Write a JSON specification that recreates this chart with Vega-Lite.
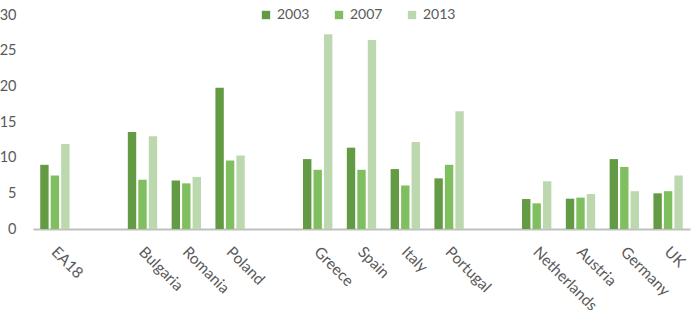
{
  "$schema": "https://vega.github.io/schema/vega-lite/v6.json",
  "autosize": "none",
  "width": 657,
  "height": 214,
  "padding": {"left": 33, "top": 15, "right": 2, "bottom": 81},
  "background": "white",
  "config": {
    "view": {"stroke": null},
    "font": "Lato",
    "axis": {"labelFont": "Lato", "labelColor": "#595959", "labelFontSize": 14},
    "legend": {"labelFont": "Lato", "labelColor": "#595959", "labelFontSize": 14}
  },
  "data": {
    "values": [
      {"country": "EA18", "year": "2003", "value": 9.0},
      {"country": "EA18", "year": "2007", "value": 7.5},
      {"country": "EA18", "year": "2013", "value": 11.9},
      {"country": "Bulgaria", "year": "2003", "value": 13.6},
      {"country": "Bulgaria", "year": "2007", "value": 6.9},
      {"country": "Bulgaria", "year": "2013", "value": 13.0},
      {"country": "Romania", "year": "2003", "value": 6.8},
      {"country": "Romania", "year": "2007", "value": 6.4},
      {"country": "Romania", "year": "2013", "value": 7.3},
      {"country": "Poland", "year": "2003", "value": 19.8},
      {"country": "Poland", "year": "2007", "value": 9.6},
      {"country": "Poland", "year": "2013", "value": 10.3},
      {"country": "Greece", "year": "2003", "value": 9.8},
      {"country": "Greece", "year": "2007", "value": 8.3},
      {"country": "Greece", "year": "2013", "value": 27.3},
      {"country": "Spain", "year": "2003", "value": 11.4},
      {"country": "Spain", "year": "2007", "value": 8.3},
      {"country": "Spain", "year": "2013", "value": 26.5},
      {"country": "Italy", "year": "2003", "value": 8.4},
      {"country": "Italy", "year": "2007", "value": 6.1},
      {"country": "Italy", "year": "2013", "value": 12.2},
      {"country": "Portugal", "year": "2003", "value": 7.1},
      {"country": "Portugal", "year": "2007", "value": 9.0},
      {"country": "Portugal", "year": "2013", "value": 16.5},
      {"country": "Netherlands", "year": "2003", "value": 4.2},
      {"country": "Netherlands", "year": "2007", "value": 3.6},
      {"country": "Netherlands", "year": "2013", "value": 6.7},
      {"country": "Austria", "year": "2003", "value": 4.25},
      {"country": "Austria", "year": "2007", "value": 4.4},
      {"country": "Austria", "year": "2013", "value": 4.9},
      {"country": "Germany", "year": "2003", "value": 9.8},
      {"country": "Germany", "year": "2007", "value": 8.7},
      {"country": "Germany", "year": "2013", "value": 5.3},
      {"country": "UK", "year": "2003", "value": 5.0},
      {"country": "UK", "year": "2007", "value": 5.3},
      {"country": "UK", "year": "2013", "value": 7.5}
    ]
  },
  "mark": {"type": "bar"},
  "encoding": {
    "x": {
      "field": "country",
      "type": "nominal",
      "scale": {
        "domain": ["EA18", "gap1", "Bulgaria", "Romania", "Poland", "gap2", "Greece", "Spain", "Italy", "Portugal", "gap3", "Netherlands", "Austria", "Germany", "UK"],
        "paddingInner": 0.33,
        "paddingOuter": 0.165
      },
      "axis": {
        "title": null,
        "labelAngle": 45,
        "labelAlign": "left",
        "labelBaseline": "top",
        "labelPadding": 15,
        "labelOffset": 4,
        "labelFontSize": 15.5,
        "ticks": false,
        "domainColor": "#bfbfbf",
        "domainWidth": 2,
        "labelExpr": "indexof(datum.value, 'gap') === 0 ? '' : datum.value"
      }
    },
    "xOffset": {"field": "year", "type": "nominal", "scale": {"paddingInner": 0.2}},
    "y": {
      "field": "value",
      "type": "quantitative",
      "scale": {"domain": [0, 30], "nice": false},
      "axis": {
        "title": null,
        "values": [0, 5, 10, 15, 20, 25, 30],
        "domain": false,
        "ticks": false,
        "grid": false,
        "labelPadding": 17,
        "labelFontSize": 14.5
      }
    },
    "color": {
      "field": "year",
      "type": "nominal",
      "scale": {"domain": ["2003", "2007", "2013"], "range": ["#639b44", "#7fbf5f", "#bcd8ae"]},
      "legend": {
        "title": null,
        "orient": "none",
        "direction": "horizontal",
        "legendX": 226,
        "legendY": -7,
        "symbolType": "square",
        "symbolSize": 70,
        "symbolStrokeWidth": 0,
        "labelOffset": 4,
        "columnPadding": 22
      }
    }
  }
}
